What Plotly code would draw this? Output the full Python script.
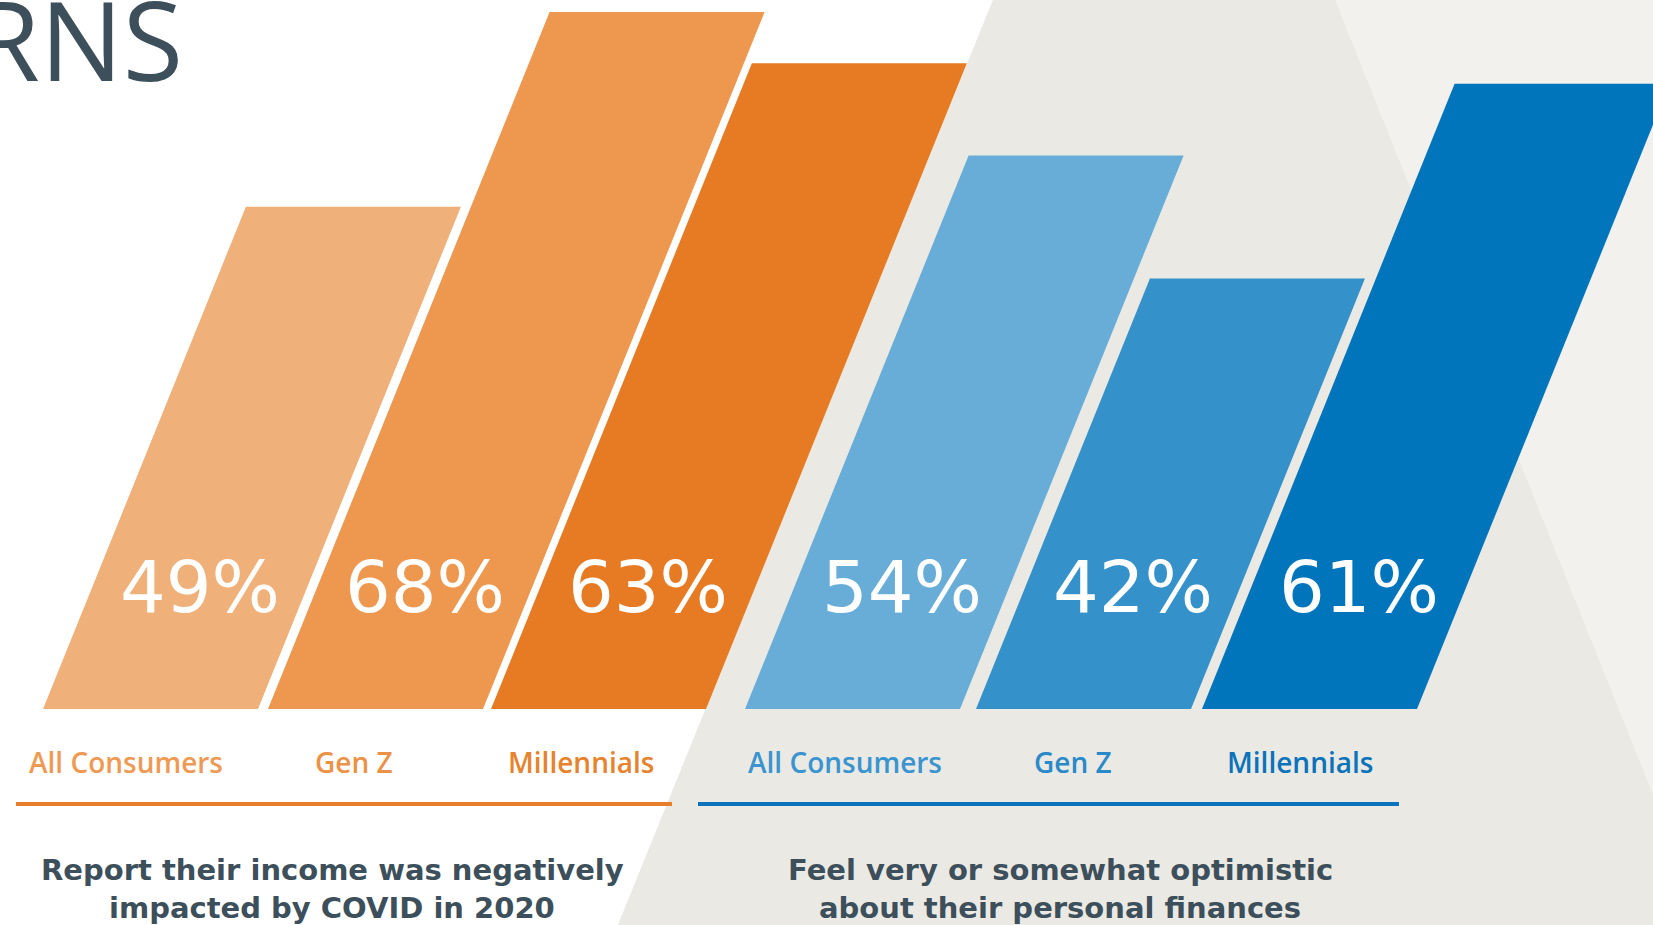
import plotly.graph_objects as go

# ---- data -----------------------------------------------------------------
segments = ["All Consumers", "Gen Z", "Millennials"]
income_hit = [49, 68, 63]        # % reporting income negatively impacted by COVID
optimistic = [54, 42, 61]        # % very/somewhat optimistic about personal finances
caption_income = ["Report their income was negatively", "impacted by COVID in 2020"]
caption_optimism = ["Feel very or somewhat optimistic", "about their personal finances"]
heading_tail = "RNS"

# ---- page geometry ---------------------------------------------------------
W_PX, H_PX = 1653, 925
BASE_PX = 709                    # baseline of the bars, from the top
PX_PER_PCT = 10.25               # vertical size of one percentage point
LEAN = 0.404 * PX_PER_PCT        # horizontal drift per percentage point
BAR_W = 215
LABEL_AT = 11.9                  # height (in %) where the value sits

FONT = "DejaVu Sans"

orange = dict(x0=[43, 268, 491], fills=["#F0B07A", "#ED974F", "#E67B23"],
              label_x=[126, 354, 581],
              text=["#EE9A55", "#EC9247", "#E7822D"], rule="#E87D2A",
              rule_span=(16, 672), caption_x=332)
blue = dict(x0=[745, 976, 1202], fills=["#68ADD7", "#3491C9", "#0075BC"],
            label_x=[845, 1073, 1300],
            text=["#3A94CF", "#2A89C9", "#0A73BA"], rule="#0A73B9",
            rule_span=(698, 1399), caption_x=1060)

INK = "#3C4F5B"
WHITE = "#FFFFFF"
GREY_MID = "#EAE9E4"
GREY_LIGHT = "#F2F1EE"


def paper_x(px):
    return px / W_PX


def paper_y(px):
    return 1 - px / H_PX


fig = go.Figure()
annotations = []


def add_group(values, style, caption):
    for i, v in enumerate(values):
        x0 = style["x0"][i]
        xs = [x0, x0 + BAR_W, x0 + BAR_W + LEAN * v, x0 + LEAN * v, x0]
        ys = [0, 0, v, v, 0]
        fig.add_trace(go.Scatter(
            x=xs, y=ys, mode="lines", fill="toself",
            fillcolor=style["fills"][i], line=dict(width=0),
            hoverinfo="skip", showlegend=False,
        ))
        annotations.append(dict(
            x=x0 + BAR_W / 2 + LEAN * LABEL_AT, y=LABEL_AT,
            xref="x", yref="y", text=f"{v}%", showarrow=False,
            xanchor="center", yanchor="middle",
            font=dict(family=FONT, size=72, color=WHITE),
        ))
        annotations.append(dict(
            x=paper_x(style["label_x"][i]), y=paper_y(761.5),
            xref="paper", yref="paper", text=segments[i], showarrow=False,
            xanchor="center", yanchor="middle",
            font=dict(family="Open Sans", size=28, weight=600,
                      color=style["text"][i]),
        ))
    a, b = style["rule_span"]
    fig.add_shape(type="line", xref="paper", yref="paper",
                  x0=paper_x(a), x1=paper_x(b),
                  y0=paper_y(804), y1=paper_y(804),
                  line=dict(color=style["rule"], width=4))
    for k, line in enumerate(caption):
        annotations.append(dict(
            x=paper_x(style["caption_x"]), y=paper_y(870 + 37.5 * k),
            xref="paper", yref="paper", text=line, showarrow=False,
            xanchor="center", yanchor="middle",
            font=dict(family=FONT, size=29, weight=700, color=INK),
        ))


# ---- background panels -----------------------------------------------------
def poly(points):
    d = "M " + " L ".join(f"{paper_x(x)},{paper_y(y)}" for x, y in points) + " Z"
    return d


fig.add_shape(type="path", xref="paper", yref="paper", layer="below",
              path=poly([(993, 0), (1700, 0), (1700, 925), (618, 925)]),
              fillcolor=GREY_LIGHT, line=dict(width=0))
fig.add_shape(type="path", xref="paper", yref="paper", layer="below",
              path=poly([(993, 0), (1335, 0), (1705, 925), (618, 925)]),
              fillcolor=GREY_MID, line=dict(width=0))

add_group(income_hit, orange, caption_income)
add_group(optimistic, blue, caption_optimism)

annotations.append(dict(
    x=paper_x(185), y=paper_y(38), xref="paper", yref="paper",
    text=heading_tail, showarrow=False, xanchor="right", yanchor="middle",
    font=dict(family="Open Sans", size=110, weight=400, color=INK),
))

fig.update_layout(
    width=W_PX, height=H_PX,
    margin=dict(l=0, r=0, t=0, b=0),
    paper_bgcolor=WHITE, plot_bgcolor=WHITE,
    xaxis=dict(range=[0, W_PX], visible=False, fixedrange=True),
    yaxis=dict(range=[-(H_PX - BASE_PX) / PX_PER_PCT, BASE_PX / PX_PER_PCT],
               visible=False, fixedrange=True),
    annotations=annotations,
    showlegend=False,
)

fig.write_html("out.html", config=dict(displayModeBar=False))
